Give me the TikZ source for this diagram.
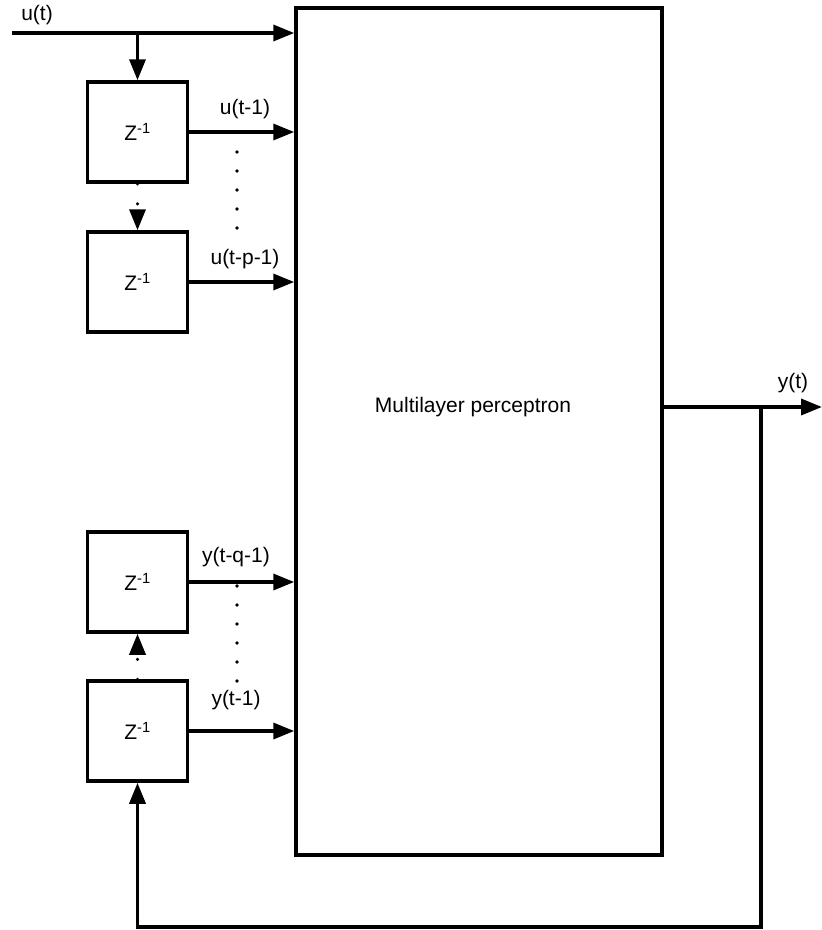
\documentclass[tikz,border=0pt]{standalone}
\usepackage{fontspec}
\setmainfont{Liberation Sans}
\usetikzlibrary{arrows.meta,positioning}

\begin{document}
\begin{tikzpicture}[x=1pt,y=-1pt,node distance=46.5pt,
  every node/.style={font=\fontsize{21pt}{25pt}\selectfont},
  delay/.style={draw,line width=3.5pt,minimum size=100pt,inner sep=0pt},
  mlp/.style={draw,line width=3.5pt,minimum width=366pt,minimum height=847pt,inner sep=0pt},
  ar/.style={-{Triangle[length=21pt,width=16pt]},line width=3.5pt},
  % the dots come from the stroke itself: a zero dash every 20pt with a round cap
  dotar/.style={ar,line cap=round,dash pattern=on 0pt off 20pt}]
\useasboundingbox (0,0) rectangle (822,930);

\coordinate (uin) at (12,33);
\node[mlp] (mlp) at (479,431.5) {};
\node (mlptxt) at (473,407) {Multilayer perceptron};

\node[delay] (d1) at (137.5,132) {Z\textsuperscript{-1}};
\node[delay,below=of d1] (d2) {Z\textsuperscript{-1}};
\node[delay] (d3) at (137.5,582) {Z\textsuperscript{-1}};
\node[delay,below=45.5pt of d3] (d4) {Z\textsuperscript{-1}};

\node (lut) at (37,15) {u(t)};
\node (lu1) at (245,109) {u(t-1)};
\node (lup) at (245,259) {u(t-p-1)};
\node (lyq) at (236,557) {y(t-q-1)};
\node (ly1) at (236,700) {y(t-1)};
\node (lyt) at (793,383) {y(t)};

\draw[ar] (uin) -- (uin -| mlp.west);
\draw[ar] (d1.north |- uin) -- (d1.north);
\draw[dotar] (d1.south) -- (d2.north);
\draw[dotar] (d4.north) -- (d3.south);
\foreach \d in {d1,d2,d3,d4} \draw[ar] (\d.east) -- (\d.east -| mlp.west);

\foreach \y in {152,171,190,209,228} \fill (237,\y) circle (1.8pt);
\foreach \y in {586,605,624,643,662,681} \fill (237,\y) circle (1.8pt);

\coordinate (yout) at (822,407);
\coordinate (fb) at (761,407);
\coordinate (fbdown) at (761,927);
\draw[ar] (mlp.east |- yout) -- (yout);
\draw[ar] (fb) -- (fbdown) -| (d4.south);
\end{tikzpicture}
\end{document}
